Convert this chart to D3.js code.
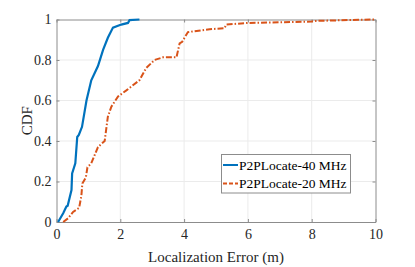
<!DOCTYPE html>
<html>
<head>
<meta charset="utf-8">
<script src="https://cdn.jsdelivr.net/npm/d3@7"></script>
<style>
  body { margin: 0; background: #fff; }
  svg text { font-family: "Times New Roman", "Liberation Serif", Times, serif !important; }
</style>
</head>
<body>
<div class="content"></div>
<script>
// CDF curves: [error (m), cdf]
const series40 = [
  [0.05, 0], [0.21, 0.043], [0.31, 0.076], [0.35, 0.08], [0.47, 0.158], [0.49, 0.24],
  [0.59, 0.29], [0.65, 0.42], [0.70, 0.43], [0.80, 0.47], [0.94, 0.60],
  [1.09, 0.70], [1.30, 0.77], [1.46, 0.85], [1.61, 0.91], [1.77, 0.96],
  [2.03, 0.975], [2.24, 0.983], [2.29, 0.997], [2.6, 1]
];
const series20 = [
  [0.21, 0], [0.36, 0.018], [0.52, 0.05], [0.71, 0.07], [0.78, 0.13], [0.81, 0.19],
  [0.92, 0.22], [0.97, 0.27], [1.09, 0.29], [1.30, 0.37], [1.51, 0.40],
  [1.61, 0.52], [1.72, 0.57], [1.93, 0.62], [2.19, 0.65], [2.6, 0.70],
  [2.81, 0.76], [3.07, 0.80], [3.34, 0.813], [3.76, 0.813], [3.86, 0.882],
  [3.94, 0.89], [4.12, 0.938], [4.8, 0.952], [5.27, 0.957], [5.32, 0.975],
  [6.0, 0.983], [8.0, 0.99], [8.13, 0.993], [9.9, 1.0], [10, 1.0]
];
const seriesNames = ["P2PLocate-40 MHz", "P2PLocate-20 MHz"];
const seriesColors = ["#0072BD", "#D95319"];
const xTicks = [0, 2, 4, 6, 8, 10];
const yTicks = [0, 0.2, 0.4, 0.6, 0.8, 1];

const W = 415, H = 267;
const plot = { left: 56.5, right: 375.5, top: 19.5, bottom: 222 };
const serif = "'Times New Roman', 'Liberation Serif', Times, serif";

const svg = d3.select('.content')
  .append('svg')
  .attr('width', W)
  .attr('height', H)
  .attr('font-family', serif);

const x = d3.scaleLinear().domain([0, 10]).range([plot.left, plot.right]);
const y = d3.scaleLinear().domain([0, 1]).range([plot.bottom, plot.top]);

// grid
svg.append("g")
  .selectAll("line.gx")
  .data(xTicks.slice(1, -1))
  .enter().append("line")
  .attr("x1", d => x(d)).attr("x2", d => x(d))
  .attr("y1", plot.top).attr("y2", plot.bottom)
  .attr("stroke", "#ebebeb").attr("stroke-width", 1);
svg.append("g")
  .selectAll("line.gy")
  .data(yTicks.slice(1, -1))
  .enter().append("line")
  .attr("x1", plot.left).attr("x2", plot.right)
  .attr("y1", d => y(d)).attr("y2", d => y(d))
  .attr("stroke", "#ebebeb").attr("stroke-width", 1);

// axes (inward ticks, box on)
const axisColor = "#8c8c8c";
const fmt = d => d3.format("~g")(d);
const axBottom = svg.append("g")
  .attr("transform", `translate(0,${plot.bottom})`)
  .call(d3.axisBottom(x).tickValues(xTicks).tickSizeInner(-3).tickSizeOuter(0).tickPadding(7).tickFormat(fmt));
const axLeft = svg.append("g")
  .attr("transform", `translate(${plot.left},0)`)
  .call(d3.axisLeft(y).tickValues(yTicks).tickSizeInner(-3).tickSizeOuter(0).tickPadding(5).tickFormat(fmt));
const axTop = svg.append("g")
  .attr("transform", `translate(0,${plot.top})`)
  .call(d3.axisTop(x).tickValues(xTicks).tickSizeInner(-3).tickSizeOuter(0).tickFormat(""));
const axRight = svg.append("g")
  .attr("transform", `translate(${plot.right},0)`)
  .call(d3.axisRight(y).tickValues(yTicks).tickSizeInner(-3).tickSizeOuter(0).tickFormat(""));

[axBottom, axLeft, axTop, axRight].forEach(g => {
  g.attr("font-family", serif).attr("font-size", 14);
  g.select(".domain").attr("stroke", axisColor);
  g.selectAll(".tick line").attr("stroke", axisColor);
  g.selectAll(".tick text").attr("fill", "#262626");
});

// curves
const line = d3.line().x(d => x(d[0])).y(d => y(d[1])).curve(d3.curveLinear);
svg.append("path")
  .datum(series20)
  .attr("d", line)
  .attr("fill", "none")
  .attr("stroke", seriesColors[1])
  .attr("stroke-width", 2)
  .attr("stroke-dasharray", "6,2,1.5,2");
svg.append("path")
  .datum(series40)
  .attr("d", line)
  .attr("fill", "none")
  .attr("stroke", seriesColors[0])
  .attr("stroke-width", 2.2);

// axis labels
svg.append("text")
  .attr("x", (plot.left + plot.right) / 2)
  .attr("y", 262)
  .attr("text-anchor", "middle")
  .attr("font-size", 15)
  .attr("fill", "#262626")
  .text("Localization Error (m)");
svg.append("text")
  .attr("transform", `translate(32,${(plot.top + plot.bottom) / 2}) rotate(-90)`)
  .attr("text-anchor", "middle")
  .attr("font-size", 15)
  .attr("fill", "#262626")
  .text("CDF");

// legend
const legend = svg.append("g").attr("transform", "translate(221.5,154.5)");
legend.append("rect")
  .attr("width", 129).attr("height", 38.5)
  .attr("fill", "#fff").attr("stroke", "#8c8c8c").attr("stroke-width", 1);
seriesNames.forEach((name, i) => {
  const yy = 10.5 + i * 18.5;
  legend.append("line")
    .attr("x1", 1.5).attr("x2", 16.5)
    .attr("y1", yy).attr("y2", yy)
    .attr("stroke", seriesColors[i])
    .attr("stroke-width", 2)
    .attr("stroke-dasharray", i === 1 ? "4,2" : null);
  legend.append("text")
    .attr("x", 17.5).attr("y", yy + 4.5)
    .attr("font-size", 13.5)
    .attr("fill", "#000")
    .text(name);
});
</script>
</body>
</html>
